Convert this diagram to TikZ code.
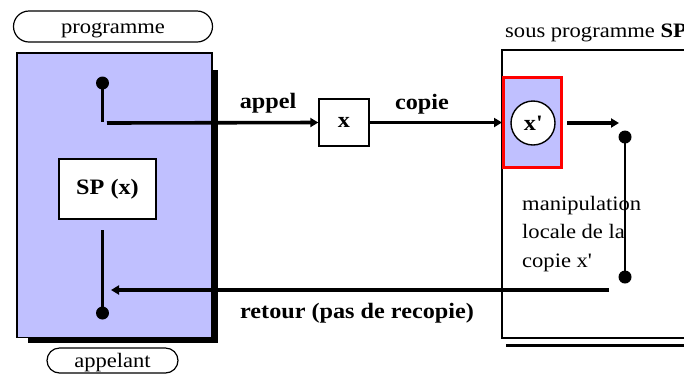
\documentclass[tikz,border=0pt]{standalone}
\usepackage{fontspec}
\setmainfont[FakeStretch=1.1]{Liberation Serif}
\usetikzlibrary{arrows.meta,shapes.misc}
\definecolor{lav}{RGB}{192,192,255}
\begin{document}
\begin{tikzpicture}[x=1pt,y=-1pt,
  txt/.style={font=\fontsize{20.5}{28.5}\selectfont, inner sep=0pt},
  btxt/.style={font=\fontsize{22}{26}\selectfont\bfseries, inner sep=0pt},
  pill/.style={draw, rounded rectangle, line width=1.2pt, inner sep=0pt},
  hline/.style={line width=3.6pt},
  vline/.style={line width=2.4pt},
  tip/.style={-{Triangle[length=8pt,width=9pt]}},
  dot/.style={circle, fill=black, inner sep=0pt, minimum size=13pt},
  box/.style={draw=black, line width=1.4pt, inner sep=0pt}
]
\useasboundingbox (0,0) rectangle (684,376);
\clip (0,0) rectangle (684,376);

% pills
\node[pill, minimum width=199, minimum height=31] (prog) at (113,26.5) {};
\node[txt, anchor=base] (progtxt) at (113,33.5) {programme};
\node[pill, minimum width=131, minimum height=25] (appl) at (112.5,360.5) {};
\node[txt, anchor=base] (appltxt) at (112.5,367) {appelant};

% caller box with shadow
\fill[black] (28,70) rectangle (217.5,343);
\filldraw[fill=lav, draw=black, line width=1.2pt] (17,53) rectangle (212,337.5);

% called sub-program box with shadow line
\filldraw[fill=white, draw=black, line width=1.2pt] (502,50) rectangle (700,338);
\draw[line width=2.8pt] (506,345.5) -- (700,345.5);
\node[txt, anchor=base west] (sous) at (505,37) {sous programme \textbf{SP}};

% caller internals
\node[dot] (d1) at (102.5,83) {};
\node[dot] (d2) at (102.5,313) {};
\coordinate (v1) at (102.5,122);
\coordinate (v2) at (102.5,230);
\draw[vline] (d1.center) -- (v1);
\draw[vline] (v2) -- (d2.center);
\node[box, fill=white, btxt, minimum width=97, minimum height=60] (sp) at (107.5,189) {SP (x)};

% call path
\coordinate (c0) at (107,123);
\node[box, btxt, minimum width=50, minimum height=47, fill=white] (xb) at (344,122.5) {x};
\node[draw=red, line width=3pt, fill=lav, minimum width=58, minimum height=90, inner sep=0pt] (red) at (532.5,122.5) {};
\node[circle, draw=black, line width=1.4pt, fill=white, minimum size=44, inner sep=0pt, btxt] (xp) at (533,123) {x\textquotesingle};
\draw[hline, tip] (c0) -- (xb.west);
\draw[hline, tip] (xb.east) -- (red.west);
\node[btxt] (appel) at (268,103) {appel};
\node[btxt] (copie) at (422,104) {copie};

% inside the sub-program
\coordinate (a1) at (567,123);
\coordinate (a2) at (619,123);
\draw[hline, tip] (a1) -- (a2);
\node[dot] (d3) at (625,137) {};
\node[dot] (d4) at (625,277) {};
\draw[vline] (d3.center) -- (d4.center);
\node[txt, anchor=north west, align=left] (manip) at (522,196) {manipulation\\locale de la\\copie x\textquotesingle};

% return path
\coordinate (r0) at (609,290);
\coordinate (r1) at (111,290);
\draw[hline, tip] (r0) -- (r1);
\node[btxt] (ret) at (357,313) {retour (pas de recopie)};
\end{tikzpicture}
\end{document}
